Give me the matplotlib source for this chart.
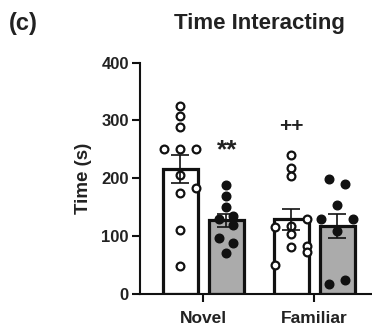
import matplotlib
matplotlib.use("Agg")
import matplotlib.pyplot as plt
import numpy as np

plt.rcParams["font.family"] = ["Liberation Sans", "DejaVu Sans"]
plt.rcParams["font.weight"] = "bold"

groups = ["Novel", "Familiar"]
bar_means = [216, 127, 129, 118]          # novel-open, novel-filled, familiar-open, familiar-filled
bar_sems = [25, 12, 18, 21]

novel_open = [325, 307, 289, 251, 251, 251, 205, 184, 174, 110, 48]
novel_filled = [189, 170, 150, 130, 134, 119, 97, 88, 70]
familiar_open = [240, 217, 204, 129, 115, 117, 104, 82, 83, 73, 50]
familiar_filled = [199, 190, 154, 129, 129, 109, 17, 25]

# horizontal column index for each point (layout only)
novel_open_col = [0, 0, 0, -1, 0, 1, 0, 1, 0, 0, 0]
novel_filled_col = [0, 0, 0, -0.45, 0.45, 0.45, -0.45, 0.45, 0]
familiar_open_col = [0, 0, 0, 1, -1, 0, 0, 0, 1, 1, -1]
familiar_filled_col = [-0.5, 0.5, 0, -1, 1, 0, -0.5, 0.5]

fig = plt.figure(figsize=(3.72, 3.29), dpi=100)
ax = fig.add_axes([0.376, 0.1064, 0.621, 0.7036])

off, width, colw = 0.207, 0.315, 0.144
xpos = [0 - off, 0 + off, 1 - off, 1 + off]
faces = ["white", "#ababab", "white", "#ababab"]
ax.bar(xpos, bar_means, width=width, color=faces, edgecolor="#111111",
       linewidth=2.3, zorder=1)

series = [(novel_open, novel_open_col, True), (novel_filled, novel_filled_col, False),
          (familiar_open, familiar_open_col, True), (familiar_filled, familiar_filled_col, False)]
for x, (vals, cols, hollow) in zip(xpos, series):
    xs = x + np.array(cols) * colw
    if hollow:
        ax.plot(xs, vals, "o", ms=5.6, mfc="white", mec="#111111", mew=1.6,
                ls="none", zorder=3, clip_on=False)
    else:
        ax.plot(xs, vals, "o", ms=6.2, mfc="#111111", mec="#111111",
                ls="none", zorder=3, clip_on=False)

ax.errorbar(xpos, bar_means, yerr=bar_sems, fmt="none", ecolor="#111111",
            elinewidth=1.2, capsize=6.5, capthick=1.2, zorder=4)

ax.text(xpos[1] + 0.01, 249, "**", ha="center", va="center", fontsize=19,
        fontweight="bold", color="#222222")
ax.text(xpos[2], 289, "++", ha="center", va="center", fontsize=15,
        fontweight="bold", color="#222222")

ax.set_xlim(-0.57, 1.51)
ax.set_ylim(0, 400)
ax.set_yticks([0, 100, 200, 300, 400])
ax.set_xticks([0, 1])
ax.set_xticklabels(groups)
for s in ["top", "right"]:
    ax.spines[s].set_visible(False)
for s in ["left", "bottom"]:
    ax.spines[s].set_linewidth(1.5)
    ax.spines[s].set_color("#111111")
ax.tick_params(axis="both", length=6, width=1.5, color="#111111", labelcolor="#222222")
ax.tick_params(axis="y", labelsize=12, pad=2)
ax.tick_params(axis="x", labelsize=12.5, pad=6)
ax.set_ylabel("Time (s)", fontsize=13.5, fontweight="bold", labelpad=7, color="#222222")

fig.text(0.697, 0.93, "Time Interacting", ha="center", va="center",
         fontsize=16, fontweight="bold", color="#222222")
fig.text(0.025, 0.93, "(c)", ha="left", va="center", fontsize=17,
         fontweight="bold", color="#222222")

fig.savefig("out.png", dpi=100)
